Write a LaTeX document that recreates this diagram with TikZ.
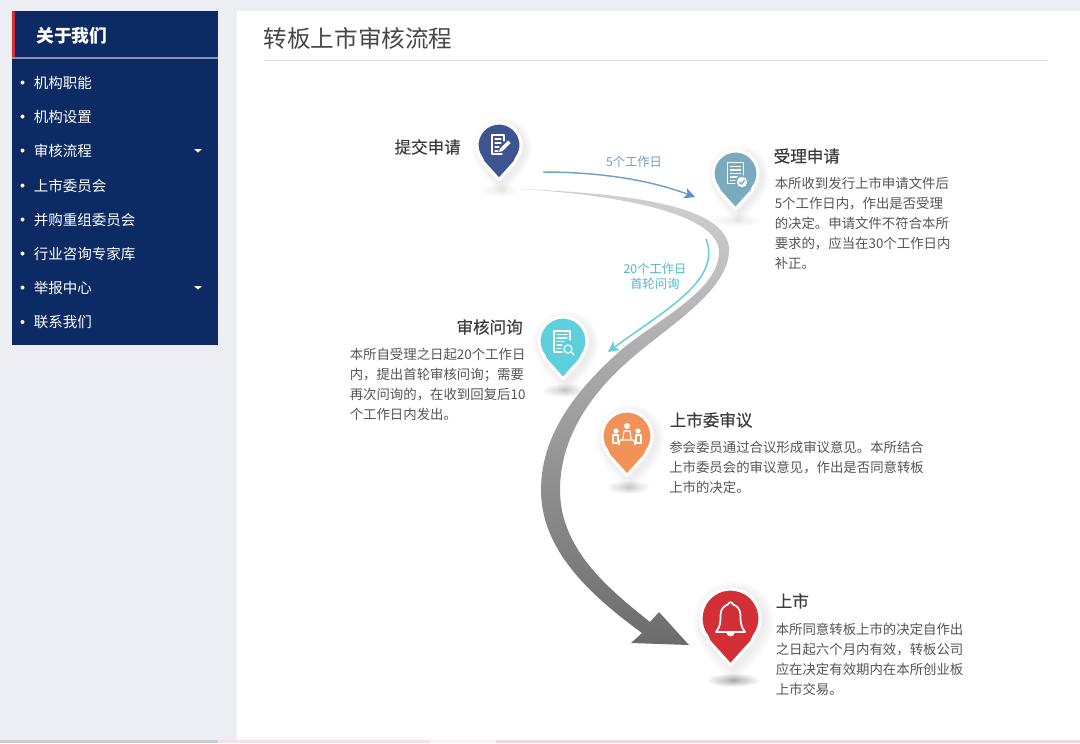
\documentclass[tikz,border=0pt]{standalone}
\usepackage{fontspec}
\setmainfont{Noto Sans CJK SC}
\newfontfamily\headfont[FakeBold=0.25]{Noto Sans CJK SC}
\usetikzlibrary{arrows.meta}
\definecolor{pagebg}{HTML}{EDEEF4}
\definecolor{navy}{HTML}{0C2A63}
\definecolor{pinA}{HTML}{3D5490}
\definecolor{pinB}{HTML}{7BA9BD}
\definecolor{pinC}{HTML}{5FD0DB}
\definecolor{pinD}{HTML}{F19358}
\definecolor{pinE}{HTML}{D22F37}
\definecolor{headtxt}{HTML}{3C3C3C}
\definecolor{bodytxt}{HTML}{555555}
\definecolor{stripa}{HTML}{CCCCCC}
\definecolor{stripb}{HTML}{F3E3E6}
\definecolor{stripc}{HTML}{F8F0F1}
\definecolor{stripd}{HTML}{EFD7DC}
\definecolor{menurule}{HTML}{8893AE}
\definecolor{menured}{HTML}{D22F37}
\definecolor{lineblue}{HTML}{6FA3BF}
\definecolor{headblue}{HTML}{5B8FD0}
\definecolor{lblblue}{HTML}{6C9FC0}
\definecolor{lblcyan}{HTML}{4FB9C6}
\newcommand{\fs}[1]{\fontsize{#1}{15}\selectfont}
\tikzset{
  menuitem/.style={anchor=west,inner sep=0pt,text=white,font=\fs{10.9}},
  heading/.style={inner sep=0pt,text=headtxt,font=\headfont\fs{12.4}},
  bodyblock/.style={anchor=north west,inner sep=0pt,align=left,text=bodytxt,font=\fs{10.05}},
  steplabel/.style={inner sep=0pt,align=center,font=\fontsize{9.2}{11.2}\selectfont},
  icon/.style={draw=white,line width=0.9pt,line cap=round,line join=round},
}
% teardrop outline in units of the radius
\newcommand{\dropshape}{(0,1.58) -- (-0.72,0.78) .. controls (-0.74,0.74) and (-0.77,0.66) .. (-0.8,0.6) arc[start angle=143.13,end angle=396.87,radius=1] .. controls (0.77,0.66) and (0.74,0.74) .. (0.72,0.78) -- cycle}
% #1 x, #2 y, #3 r, #4 colour, #5 ground-shadow x, #6 ground-shadow y, #7 ground rx, #8 ground strength
\newcommand{\drop}[8]{%
  \shade[inner color=black!#8,outer color=white] (#5,#6) ellipse[x radius=#7*1.25,y radius=7];
  \foreach \g in {0.08,0.14,0.20,0.26,0.32,0.38}{
    \fill[black,opacity=0.012,shift={(#1+3,#2+3)},scale=#3*(1+\g)] \dropshape;
  }
  \begin{scope}[shift={(#1,#2)},scale=#3]
    \filldraw[draw=white,line width=2.3pt,line join=round,fill=#4] \dropshape;
  \end{scope}
}
\begin{document}
\begin{tikzpicture}[x=0.75pt,y=-0.75pt]
\useasboundingbox (0,0) rectangle (1080,743);
\fill[pagebg] (0,0) rectangle (1080,743);
\fill[white] (237,11) rectangle (1080,740);
% bottom strip
\fill[stripa] (0,740) rectangle (218,743);
\fill[stripb] (218,740) rectangle (430,743);
\fill[stripc] (430,740) rectangle (496,743);
\fill[stripd] (496,740) rectangle (1080,743);
% sidebar
\fill[navy] (12,11) rectangle (218,345);
\fill[menured] (12,11) rectangle (15,57);
\fill[menurule] (12,57) rectangle (218,59);
\node[inner sep=0pt,anchor=west,text=white,font=\fs{13.3}\bfseries] (menuhead) at (36,35.5) {关于我们};
\foreach \nm/\yy/\txt in {a/82.5/机构职能,b/116.5/机构设置,c/150.5/审核流程,d/185.5/上市委员会,e/219.5/并购重组委员会,f/253.5/行业咨询专家库,g/287.5/举报中心,h/322/联系我们}{
  \fill[white] (22.5,\yy) circle[radius=2];
  \node[menuitem] (item\nm) at (33.5,\yy) {\txt};
}
\fill[white] (194,149) -- (202,149) -- (198,152.5) -- cycle;
\fill[white] (194,286) -- (202,286) -- (198,289.5) -- cycle;
% title
\node[anchor=west,inner sep=0pt,text=black!72,font=\fs{17.7}] (title) at (263.5,38.5) {转板上市审核流程};
\draw[black!12,line width=0.75pt] (264,60) -- (1048,60);
% pins and ground shadows
\drop{499}{145}{22}{pinA}{499}{190}{16}{8}
\drop{735.5}{173.5}{22.5}{pinB}{736}{220}{22}{8}
\drop{563}{341}{24}{pinC}{564}{390}{18}{20}
\drop{627}{436}{25}{pinD}{628}{487}{18}{20}
\drop{730.5}{618.5}{29.5}{pinE}{733}{680}{22}{32}
% big ribbon arrow
\shade[top color=black!18,bottom color=black!58]
  (518,189) .. controls (625,193) and (729,205) .. (729,250)
  .. controls (729,290) and (670,325) .. (633,357)
  .. controls (600,385) and (560,430) .. (560,490)
  .. controls (560,550) and (610,590) .. (650,622)
  -- (659,612) -- (689,645) -- (631,643) -- (642,633)
  .. controls (590,595) and (541,550) .. (541,490)
  .. controls (541,430) and (582,385) .. (621,350)
  .. controls (660,318) and (719,290) .. (719,252)
  .. controls (719,215) and (625,195) .. (518,189) -- cycle;
% thin connectors
\coordinate (fiveS) at (543,172);
\coordinate (fiveE) at (695,197);
\coordinate (twentyS) at (706,239);
\coordinate (twentyE) at (608,352);
\draw[lineblue,line width=1.1pt,-{Stealth[length=8pt,width=8pt,inset=2pt,color=headblue]}] (fiveS) .. controls (600,172) and (650,180) .. (fiveE);
\draw[pinC,line width=1.1pt,-{Stealth[length=8pt,width=8pt,inset=2pt]}] (twentyS) .. controls (722,280) and (665,310) .. (twentyE);
% connector labels
\node[steplabel,text=lblblue] (lbl5) at (634,162) {5个工作日};
\node[steplabel,text=lblcyan] (lbl20) at (655,276) {20个工作日\\首轮问询};
% headings
\node[heading,anchor=east] (h1) at (461,147) {提交申请};
\node[heading,anchor=west] (h2) at (773.5,156) {受理申请};
\node[heading,anchor=east] (h3) at (523,327) {审核问询};
\node[heading,anchor=west] (h4) at (669.5,420) {上市委审议};
\node[heading,anchor=west] (h5) at (775.5,601) {上市};
% body text
\node[bodyblock] (b2) at (774.5,177) {本所收到发行上市申请文件后\\5个工作日内，作出是否受理\\的决定。申请文件不符合本所\\要求的，应当在30个工作日内\\补正。};
\node[bodyblock] (b3) at (349.5,348) {本所自受理之日起20个工作日\\内，提出首轮审核问询；需要\\再次问询的，在收到回复后10\\个工作日内发出。};
\node[bodyblock] (b4) at (669,441) {参会委员通过合议形成审议意见。本所结合\\上市委员会的审议意见，作出是否同意转板\\上市的决定。};
\node[bodyblock] (b5) at (775.5,623) {本所同意转板上市的决定自作出\\之日起六个月内有效，转板公司\\应在决定有效期内在本所创业板\\上市交易。};
% icon 1: document with pencil
\begin{scope}[shift={(499,145)}]
  \draw[icon] (5,-4) -- (5,-10) -- (-7,-10) -- (-7,9) -- (3,9);
  \draw[icon] (-4,-6) -- (2,-6) (-4,-2) -- (2,-2) (-4,2) -- (0,2) (-4,6) -- (-1,6);
  \fill[white] (0,7) -- (1,3.5) -- (9,-4.5) -- (11.5,-2) -- (3.5,6) -- cycle;
\end{scope}
% icon 2: document with tick
\begin{scope}[shift={(735.5,173.5)}]
  \draw[icon] (-8,-11) rectangle (8,10);
  \draw[icon] (-5,-7) -- (5,-7) (-5,-3.5) -- (5,-3.5) (-5,0) -- (5,0) (-5,3.5) -- (2,3.5) (-5,7) -- (0,7);
  \fill[pinB] (6.5,8.5) circle[radius=7];
  \fill[white] (6.5,8.5) circle[radius=5.2];
  \draw[pinB,line width=1pt] (3.8,8.5) -- (5.8,10.5) -- (9.3,6.5);
\end{scope}
% icon 3: document with magnifier
\begin{scope}[shift={(563,341)}]
  \draw[icon] (7,-1) -- (7,-10) -- (-9,-10) -- (-9,11) -- (0,11);
  \draw[icon] (-6,-6.5) -- (4,-6.5) (-6,-3) -- (4,-3) (-6,0.5) -- (1,0.5) (-6,4) -- (-1,4) (-6,7.5) -- (-2,7.5);
  \fill[pinC] (5,8) circle[radius=6];
  \draw[icon] (5,8) circle[radius=4] (8,11) -- (11,14);
\end{scope}
% icon 4: meeting
\begin{scope}[shift={(627,436)}]
  \fill[white] (0,-10) circle[radius=3] (-11,-5) circle[radius=2.6] (11,-5) circle[radius=2.6];
  \draw[icon] (-4,3) -- (-3,-5) -- (3,-5) -- (4,3);
  \draw[icon] (-7,4) -- (7,4) (-7,4) -- (-8,9) (7,4) -- (8,9);
  \draw[icon] (-14,-1) rectangle (-9,7) (9,-1) rectangle (14,7);
\end{scope}
% icon 5: bell
\begin{scope}[shift={(730.5,618.5)}]
  \draw[draw=white,line width=1.3pt,line join=round] (-14.5,13.5) .. controls (-10,8) and (-10,3) .. (-10,-3) .. controls (-10,-10) and (-6,-13) .. (-2.5,-14) .. controls (-2,-17) and (2,-17) .. (2.5,-14) .. controls (6,-13) and (10,-10) .. (10,-3) .. controls (10,3) and (10,8) .. (14.5,13.5) -- cycle;
  \fill[white] (-4,14.5) .. controls (-3,19) and (3,19) .. (4,14.5) -- cycle;
\end{scope}
\end{tikzpicture}
\end{document}
